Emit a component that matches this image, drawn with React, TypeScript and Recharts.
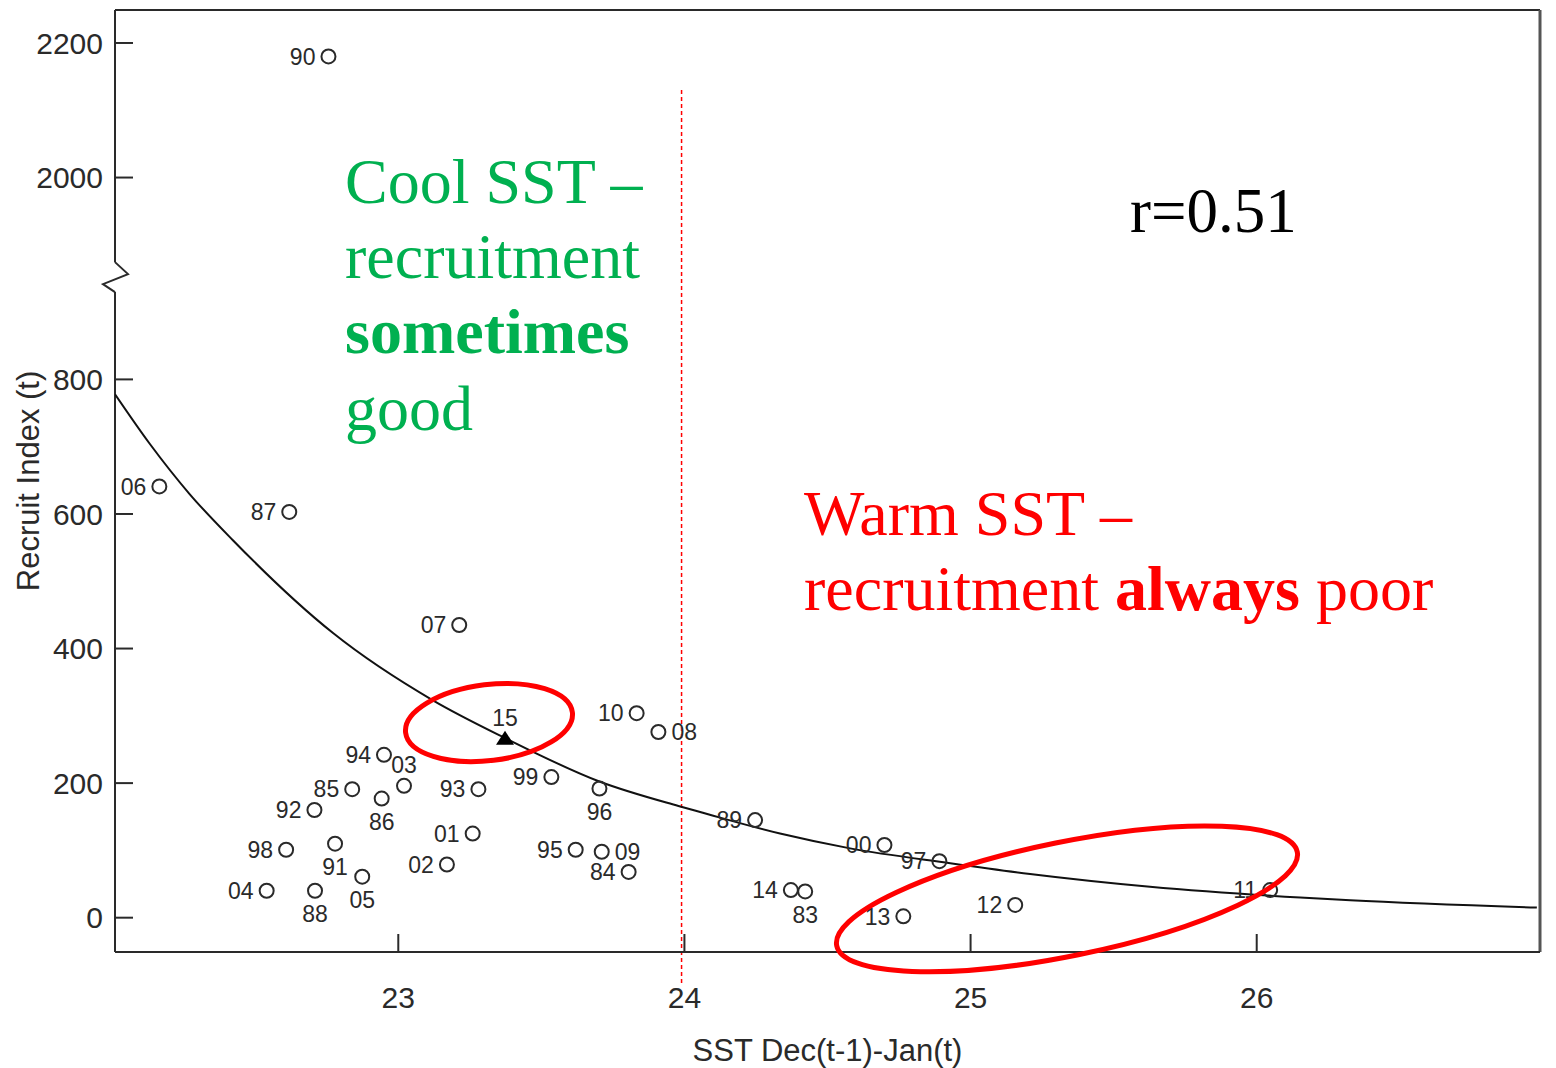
import React from 'react';
import {
  ComposedChart,
  Scatter,
  Line,
  XAxis,
  YAxis,
  ReferenceLine,
  ReferenceDot,
  Label,
} from 'recharts';

// ---- data ----
const years = ['06', '87', '07', '94', '03', '85', '86', '93', '92', '98', '91', '01', '02', '05', '04', '88', '10', '08', '99', '96', '89', '95', '09', '84', '00', '97', '14', '83', '13', '12', '11', '90'];
const sst = [22.165, 22.619, 23.213, 22.95, 23.02, 22.839, 22.942, 23.28, 22.707, 22.608, 22.779, 23.26, 23.17, 22.874, 22.54, 22.709, 23.833, 23.909, 23.535, 23.703, 24.247, 23.62, 23.711, 23.805, 24.699, 24.891, 24.372, 24.422, 24.765, 25.156, 26.047, 22.756];
const recruit = [641, 603, 435, 242, 196, 191, 177, 191, 160, 101, 110, 125, 79, 61, 40, 40, 304, 276, 209, 192, 145, 101, 98, 68, 108, 84, 41, 39, 2, 19, 41, 2180];

const latestYear = ['15'];
const latestSst = [23.373];
const latestRecruit = [266];

const curveSst = [22.01, 22.132, 22.27, 22.422, 22.772, 23.121, 23.373, 23.705, 23.979, 24.055, 24.334, 24.579, 24.929, 25.208, 25.627, 26.152, 26.327, 26.979];
const curveRecruit = [778, 704, 630, 561, 423, 323, 267, 202, 166, 157, 125, 103, 81, 65, 46, 30, 26, 15];

const xTicks = [23, 24, 25, 26];
const yTickValues = [0, 200, 400, 600, 800, 2000, 2200];

// broken axis: values above the break are drawn 900 units lower
const BREAK_SHIFT = 900;
const toDisplay = (v: number) => (v >= 1000 ? v - BREAK_SHIFT : v);
const yTicksDisplay = yTickValues.map(toDisplay);

const X_MIN = 22.01;
const X_MAX = 26.99;
const Y_MIN = -51;
const Y_MAX = 1349;

const pointData = years.map((yr, i) => ({ year: yr, x: sst[i], y: toDisplay(recruit[i]) }));
const latestData = latestYear.map((yr, i) => ({ year: yr, x: latestSst[i], y: toDisplay(latestRecruit[i]) }));
const curveData = curveSst.map((x, i) => ({ x, y: toDisplay(curveRecruit[i]) }));

// label placement relative to each marker
const LABEL_SIDE: Record<string, 'left' | 'right' | 'below' | 'above'> = {
  '86': 'below',
  '91': 'below',
  '88': 'below',
  '05': 'below',
  '96': 'below',
  '83': 'below',
  '08': 'right',
  '09': 'right',
  '03': 'above',
  '15': 'above',
};

const SANS = '"Liberation Sans", Arial, sans-serif';
const SERIF = '"Liberation Serif", "Times New Roman", serif';
const INK = '#2a2a2a';
const GREEN = '#00b050';
const RED = '#ff0000';

const pointLabel = (cx: number, cy: number, year: string) => {
  const side = LABEL_SIDE[year] || 'left';
  let tx = cx - 13;
  let ty = cy;
  let anchor: 'start' | 'middle' | 'end' = 'end';
  if (side === 'right') {
    tx = cx + 13;
    anchor = 'start';
  } else if (side === 'below') {
    tx = cx;
    ty = cy + 23;
    anchor = 'middle';
  } else if (side === 'above') {
    tx = cx;
    ty = cy - 21;
    anchor = 'middle';
  }
  return (
    <text x={tx} y={ty} dy="0.36em" textAnchor={anchor} fontSize={23} fontFamily={SANS} fill={INK}>
      {year}
    </text>
  );
};

const CircleShape = (props: any) => {
  const { cx, cy, payload } = props;
  if (cx == null || cy == null) return null;
  return (
    <g>
      <circle cx={cx} cy={cy} r={7} fill="none" stroke={INK} strokeWidth={2} />
      {pointLabel(cx, cy, payload.year)}
    </g>
  );
};

const TriangleShape = (props: any) => {
  const { cx, cy, payload } = props;
  if (cx == null || cy == null) return null;
  return (
    <g>
      <path d={`M${cx},${cy - 8} L${cx + 9},${cy + 6} L${cx - 9},${cy + 6} Z`} fill="#000" />
      {pointLabel(cx, cy, payload.year)}
    </g>
  );
};

const YTick = (props: any) => {
  const { x, y, payload } = props;
  const idx = yTicksDisplay.indexOf(payload.value);
  const label = idx >= 0 ? yTickValues[idx] : payload.value;
  return (
    <g>
      <line x1={x + 12} x2={x + 30} y1={y} y2={y} stroke={INK} strokeWidth={2} />
      <text x={x} y={y} dy="0.36em" textAnchor="end" fontSize={30} fontFamily={SANS} fill={INK}>
        {label}
      </text>
    </g>
  );
};

const XTick = (props: any) => {
  const { x, y, payload } = props;
  return (
    <g>
      <line x1={x} x2={x} y1={y - 45} y2={y - 63} stroke={INK} strokeWidth={2} />
      <text x={x} y={y} dy="0.36em" textAnchor="middle" fontSize={30} fontFamily={SANS} fill={INK}>
        {payload.value}
      </text>
    </g>
  );
};

const BreakMark = (props: any) => {
  const { cx, cy } = props;
  return (
    <path
      d={`M${cx},${cy - 15} L${cx + 13},${cy - 3} L${cx - 12},${cy + 7} L${cx},${cy + 15}`}
      fill="none"
      stroke={INK}
      strokeWidth={2}
    />
  );
};

const makeEllipse = (rx: number, ry: number, angle: number) => (props: any) => {
  const { cx, cy } = props;
  return (
    <ellipse
      cx={cx}
      cy={cy}
      rx={rx}
      ry={ry}
      transform={`rotate(${angle} ${cx} ${cy})`}
      fill="none"
      stroke={RED}
      strokeWidth={5}
    />
  );
};

export default function App() {
  return (
    <div style={{ position: 'absolute', left: 0, top: 0, width: 1556, height: 1068, background: '#fff' }}>
      <ComposedChart width={1556} height={1068} margin={{ top: 10, right: 16, bottom: 0, left: 0 }}>
        <XAxis
          dataKey="x"
          type="number"
          domain={[X_MIN, X_MAX]}
          ticks={xTicks}
          allowDataOverflow
          height={116}
          tickSize={0}
          tickMargin={45}
          tickLine={false}
          axisLine={{ stroke: INK, strokeWidth: 2 }}
          tick={<XTick />}
        >
          <Label
            content={(p: any) => {
              const vb = p.viewBox || { x: 115, y: 952, width: 1425, height: 116 };
              return (
                <text x={vb.x + vb.width / 2} y={vb.y + 109} textAnchor="middle" fontSize={31} fontFamily={SANS} fill={INK}>
                  SST Dec(t-1)-Jan(t)
                </text>
              );
            }}
          />
        </XAxis>
        <YAxis
          dataKey="y"
          type="number"
          domain={[Y_MIN, Y_MAX]}
          ticks={yTicksDisplay}
          allowDataOverflow
          width={115}
          tickSize={0}
          tickMargin={12}
          tickLine={false}
          axisLine={false}
          tick={<YTick />}
        >
          <Label
            content={(p: any) => {
              const vb = p.viewBox || { x: 0, y: 10, width: 115, height: 942 };
              const lx = vb.x + 28;
              const ly = vb.y + vb.height / 2;
              return (
                <text
                  x={lx}
                  y={ly}
                  dy="0.36em"
                  transform={`rotate(-90 ${lx} ${ly})`}
                  textAnchor="middle"
                  fontSize={31}
                  fontFamily={SANS}
                  fill={INK}
                >
                  Recruit Index (t)
                </text>
              );
            }}
          />
        </YAxis>

        {/* frame */}
        <ReferenceLine y={Y_MAX} stroke={INK} strokeWidth={2} ifOverflow="visible" />
        <ReferenceLine x={X_MAX} stroke="#555" strokeWidth={3} ifOverflow="visible" />
        <ReferenceLine segment={[{ x: X_MIN, y: Y_MIN }, { x: X_MIN, y: 930 }]} stroke={INK} strokeWidth={2} ifOverflow="visible" />
        <ReferenceLine segment={[{ x: X_MIN, y: 974 }, { x: X_MIN, y: Y_MAX }]} stroke={INK} strokeWidth={2} ifOverflow="visible" />
        <ReferenceDot x={X_MIN} y={952} ifOverflow="visible" shape={<BreakMark />} />

        {/* dividing line */}
        <ReferenceLine
          segment={[{ x: 23.99, y: 1230 }, { x: 23.99, y: -100 }]}
          stroke={RED}
          strokeWidth={1.5}
          strokeDasharray="4 3"
          ifOverflow="visible"
        />

        <Line
          data={curveData}
          dataKey="y"
          type="monotone"
          stroke="#111"
          strokeWidth={2}
          dot={false}
          activeDot={false}
          isAnimationActive={false}
        />
        <Scatter data={pointData} dataKey="y" shape={<CircleShape />} isAnimationActive={false} />
        <Scatter data={latestData} dataKey="y" shape={<TriangleShape />} isAnimationActive={false} />

        {/* annotation ellipses */}
        <ReferenceDot x={23.317} y={290} ifOverflow="visible" shape={makeEllipse(84, 38, -7)} />
        <ReferenceDot x={25.337} y={28} ifOverflow="visible" shape={makeEllipse(235, 57, -11.5)} />
      </ComposedChart>

      <svg width={1556} height={1068} style={{ position: 'absolute', left: 0, top: 0, pointerEvents: 'none' }}>
        <g fontFamily={SERIF} fontSize={64} fill={GREEN}>
          <text x={345} y={203}>Cool SST –</text>
          <text x={345} y={278}>recruitment</text>
          <text x={345} y={353} fontWeight="bold">sometimes</text>
          <text x={345} y={430}>good</text>
        </g>
        <g fontFamily={SERIF} fontSize={64} fill={RED}>
          <text x={804} y={535}>Warm SST –</text>
          <text x={804} y={610}>
            recruitment <tspan fontWeight="bold">always</tspan> poor
          </text>
        </g>
        <text x={1130} y={232} fontFamily={SERIF} fontSize={63} fill="#000">
          r=0.51
        </text>
      </svg>
    </div>
  );
}
